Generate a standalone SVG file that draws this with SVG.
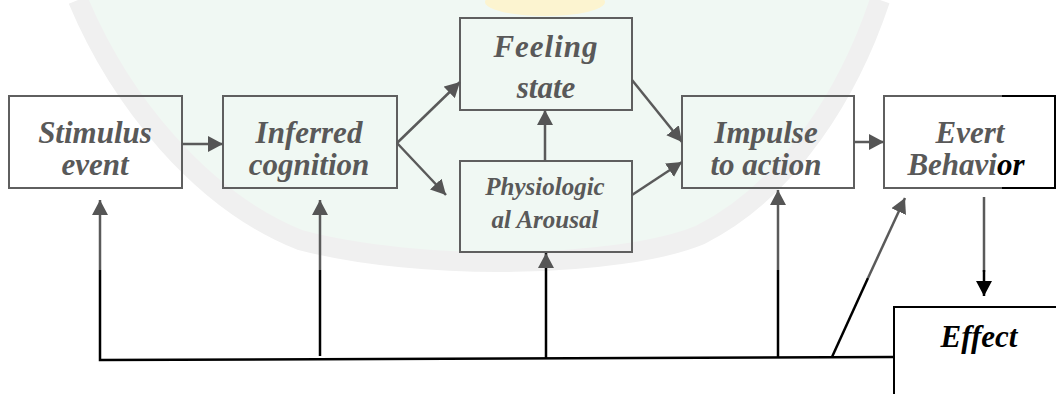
<svg xmlns="http://www.w3.org/2000/svg" width="1056" height="394" viewBox="0 0 1056 394">
<defs>
<style>
.box{fill:none;stroke:#5f5f5f;stroke-width:2}
text{font-family:'Liberation Serif','Times New Roman',Times,serif;font-weight:bold;font-style:italic;font-size:31px;fill:#595959;text-anchor:middle}
.ts{font-size:25px}
.g{stroke:#5a5a5a;stroke-width:2.5;fill:none}
.k{stroke:#000;stroke-width:2.5;fill:none}
</style>
<marker id="ag" markerUnits="userSpaceOnUse" markerWidth="16" markerHeight="16" refX="15" refY="8" orient="auto">
<path d="M0,0 L15,8 L0,16 z" fill="#555"/>
</marker>
<marker id="ak" markerUnits="userSpaceOnUse" markerWidth="16" markerHeight="16" refX="15" refY="8" orient="auto">
<path d="M0,0 L15,8 L0,16 z" fill="#000"/>
</marker>
</defs>
<rect width="1056" height="394" fill="#fff"/>
<g id="watermark">
<path d="M78,0 L880,0 C850,90 790,190 700,235 C620,268 420,272 300,240 C200,200 120,100 78,0 z" fill="#f0f8f3"/>
<path d="M880,0 C850,90 790,190 700,235 C620,268 420,272 300,240 C200,200 120,100 78,0" fill="none" stroke="#f0f0f0" stroke-width="20"/>
<ellipse cx="545" cy="2" rx="60" ry="14" fill="#fcf4d0"/>
</g>
<g id="stimulus">
<rect class="box" x="9" y="96" width="173" height="92" fill="#fff"/>
<text x="95" y="143">Stimulus</text>
<text x="95" y="175">event</text>
</g>
<g id="inferred">
<rect class="box" x="223" y="96" width="174" height="92"/>
<text x="309" y="143">Inferred</text>
<text x="309" y="175">cognition</text>
</g>
<g id="feeling">
<rect class="box" x="460" y="18" width="172" height="92"/>
<text x="546" y="57" letter-spacing="1">Feeling</text>
<text x="546" y="98">state</text>
</g>
<g id="physio">
<rect class="box" x="460" y="161" width="172" height="91"/>
<text class="ts" x="545" y="195">Physiologic</text>
<text class="ts" x="545" y="228">al Arousal</text>
</g>
<g id="impulse">
<rect class="box" x="682" y="96" width="172" height="92"/>
<text x="766" y="143">Impulse</text>
<text x="766" y="175">to action</text>
</g>
<g id="evert">
<rect class="box" x="884" y="96" width="171" height="92" fill="#fff"/>
<path d="M1002,96 H1055 V188 H1002" fill="none" stroke="#000" stroke-width="2"/>
<text x="970" y="143">Evert</text>
<text x="966" y="175">Behavi<tspan style="fill:#000">or</tspan></text>
</g>
<g id="effect">
<rect x="894" y="307" width="180" height="110" fill="#fff" stroke="#000" stroke-width="2"/>
<text x="979" y="347" style="fill:#000">Effect</text>
</g>
<g id="connectors">
<line class="g" x1="182" y1="144" x2="223" y2="144" marker-end="url(#ag)"/>
<line class="g" x1="397" y1="143" x2="460" y2="82" marker-end="url(#ag)"/>
<line class="g" x1="397" y1="143" x2="446" y2="195" marker-end="url(#ag)"/>
<line class="g" x1="545" y1="161" x2="545" y2="110" marker-end="url(#ag)"/>
<line class="g" x1="632" y1="80" x2="682" y2="142" marker-end="url(#ag)"/>
<line class="g" x1="632" y1="195" x2="682" y2="162" marker-end="url(#ag)"/>
<line class="g" x1="854" y1="142" x2="884" y2="142" marker-end="url(#ag)"/>
<line class="g" x1="100" y1="270" x2="100" y2="200" marker-end="url(#ag)"/>
<line class="g" x1="320" y1="270" x2="320" y2="200" marker-end="url(#ag)"/>
<line class="g" x1="778" y1="270" x2="778" y2="190" marker-end="url(#ag)"/>
<line class="g" x1="868" y1="278" x2="905" y2="198" marker-end="url(#ag)"/>
<line class="k" x1="546" y1="358" x2="546" y2="253" marker-end="url(#ag)"/>
<line class="g" x1="984" y1="197" x2="984" y2="272"/>
<line class="k" x1="984" y1="270" x2="984" y2="296" marker-end="url(#ak)"/>
<path class="k" d="M100,270 V360 L894,357"/>
<line class="k" x1="320" y1="270" x2="320" y2="356"/>
<line class="k" x1="778" y1="270" x2="778" y2="357"/>
<line class="k" x1="868" y1="278" x2="832" y2="357"/>
</g>
</svg>
